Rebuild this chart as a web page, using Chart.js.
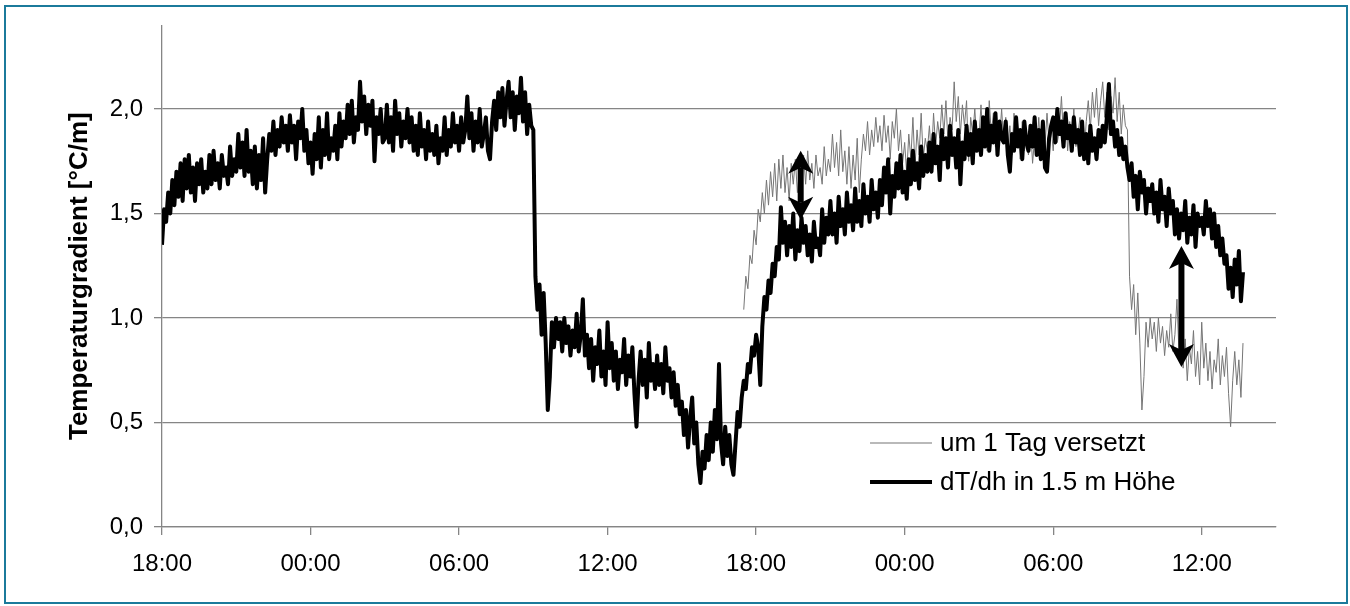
<!DOCTYPE html>
<html>
<head>
<meta charset="utf-8">
<script src="https://cdn.jsdelivr.net/npm/chart.js@4.4.1/dist/chart.umd.min.js"></script>
<style>
  html, body { margin: 0; padding: 0; background: #ffffff; }
  #wrap { position: relative; width: 1350px; height: 606px; overflow: hidden; background: #fff; }
  #c { position: absolute; left: 0; top: 0; }
  #frame { position: absolute; left: 4px; top: 5px; width: 1340px; height: 595px; border: 2px solid #1b7a9b; pointer-events: none; }
</style>
</head>
<body>
<div id="wrap">
  <canvas id="c" width="1350" height="606"></canvas>
  <div id="frame"></div>
</div>
<script>
// ---- data ----
// time axis: hours after 18:00 of day 1, 5-minute samples
const sampleStepHours = 1 / 12;
const mainStartHour = 0;
const shiftedStartHour = 23.5;

const xTickLabels = ["18:00", "00:00", "06:00", "12:00", "18:00", "00:00", "06:00", "12:00"];
const yTickValues = [0, 0.5, 1.0, 1.5, 2.0];

const seriesNames = ["um 1 Tag versetzt", "dT/dh in 1.5 m Höhe"];

// dT/dh in 1.5 m height [°C/m], one row per hour
const dTdh = [
  1.35,1.52,1.46,1.60,1.50,1.66,1.54,1.70,1.58,1.74,1.56,1.76,
  1.62,1.78,1.60,1.72,1.56,1.74,1.64,1.76,1.60,1.70,1.62,1.78,
  1.64,1.80,1.66,1.74,1.62,1.78,1.68,1.72,1.64,1.82,1.68,1.76,
  1.70,1.88,1.72,1.84,1.68,1.90,1.70,1.80,1.64,1.82,1.62,1.78,
  1.66,1.86,1.60,1.76,1.88,1.80,1.94,1.78,1.90,1.82,1.96,1.84,
  1.92,1.80,1.97,1.84,1.92,1.76,1.94,1.86,2.00,1.80,1.90,1.74,
  1.84,1.69,1.88,1.76,1.96,1.72,1.90,1.78,1.98,1.76,1.86,1.80,
  1.92,1.76,1.98,1.82,1.94,1.86,2.02,1.88,2.04,1.84,1.96,1.90,
  2.13,1.94,2.06,1.88,2.02,1.92,2.04,1.75,1.96,1.88,2.00,1.84,
  1.86,2.02,1.84,1.96,1.80,2.04,1.88,1.98,1.82,1.94,1.86,2.00,
  1.84,1.96,1.80,1.92,1.78,1.98,1.82,1.90,1.76,1.94,1.80,1.88,
  1.78,1.92,1.74,1.86,1.80,1.96,1.78,1.90,1.82,1.98,1.84,1.92,
  1.80,1.96,1.84,1.90,2.06,1.86,1.98,1.80,1.94,1.84,2.00,1.82,
  1.88,1.96,1.80,1.76,1.94,2.04,1.90,2.08,1.96,2.10,1.92,2.04,
  2.13,1.96,2.08,1.90,2.06,1.98,2.15,1.94,2.08,1.88,2.02,1.92,
  1.90,1.20,1.04,1.16,0.92,1.12,0.88,0.56,0.72,0.98,0.86,1.00,
  0.90,0.98,0.84,1.00,0.88,0.96,0.82,0.94,0.86,1.02,0.84,0.92,
  1.09,0.82,0.92,0.76,0.90,0.70,0.86,0.78,0.94,0.72,0.84,0.68,
  0.98,0.76,0.88,0.70,0.84,0.66,0.80,0.74,0.90,0.68,0.82,0.72,
  0.86,0.64,0.48,0.70,0.84,0.68,0.80,0.62,0.88,0.70,0.78,0.66,
  0.82,0.68,0.78,0.64,0.86,0.70,0.76,0.62,0.74,0.58,0.68,0.54,
  0.60,0.44,0.56,0.38,0.52,0.62,0.40,0.50,0.30,0.21,0.36,0.28,
  0.44,0.32,0.50,0.36,0.56,0.42,0.78,0.40,0.30,0.48,0.34,0.44,
  0.30,0.25,0.40,0.55,0.48,0.62,0.70,0.66,0.78,0.74,0.86,0.82,
  0.92,0.86,0.68,0.96,1.10,1.04,1.18,1.12,1.26,1.20,1.34,1.28,
  1.53,1.36,1.46,1.30,1.44,1.34,1.50,1.28,1.42,1.32,1.48,1.36,
  1.44,1.30,1.40,1.27,1.46,1.34,1.38,1.30,1.52,1.36,1.48,1.40,
  1.56,1.40,1.50,1.36,1.58,1.44,1.52,1.40,1.60,1.46,1.54,1.42,
  1.62,1.46,1.56,1.44,1.64,1.50,1.58,1.46,1.66,1.52,1.60,1.48,
  1.66,1.54,1.72,1.60,1.76,1.50,1.68,1.58,1.74,1.62,1.78,1.60,
  1.70,1.57,1.76,1.64,1.80,1.66,1.74,1.62,1.82,1.68,1.78,1.70,
  1.84,1.70,1.88,1.74,1.82,1.66,1.90,1.76,1.86,1.72,1.92,1.78,
  1.86,1.72,1.90,1.64,1.84,1.76,1.92,1.78,1.88,1.74,1.94,1.80,
  1.90,1.78,1.96,1.82,2.00,1.80,1.92,1.84,1.98,1.78,1.94,1.86,
  1.84,1.94,1.78,1.70,1.88,1.80,1.96,1.82,1.90,1.76,1.94,1.84,
  1.80,1.92,1.82,1.96,1.78,1.90,1.76,1.94,1.72,1.70,1.86,1.92,
  1.96,1.84,2.00,1.88,1.94,1.82,1.98,1.86,1.92,1.80,1.96,1.84,
  1.90,1.78,1.94,1.76,1.88,1.74,1.92,1.80,1.86,1.76,1.90,1.82,
  1.92,1.84,1.96,2.12,1.88,1.94,1.82,1.90,1.78,1.86,1.76,1.82,
  1.72,1.66,1.74,1.58,1.68,1.52,1.70,1.60,1.66,1.50,1.62,1.56,
  1.64,1.50,1.60,1.46,1.66,1.52,1.58,1.44,1.62,1.50,1.56,1.40,
  1.52,1.38,1.50,1.42,1.56,1.36,1.48,1.40,1.54,1.34,1.50,1.44,
  1.48,1.40,1.56,1.44,1.52,1.38,1.50,1.34,1.44,1.30,1.38,1.26,
  1.30,1.14,1.24,1.10,1.28,1.16,1.32,1.08,1.22
];

// same measurement shifted by one day (starts at 23.5 h)
const dTdhShifted = [
  1.04,1.20,1.14,1.30,1.26,1.42,
  1.35,1.52,1.46,1.60,1.50,1.66,1.54,1.70,1.58,1.74,1.56,1.76,
  1.62,1.78,1.60,1.72,1.56,1.74,1.64,1.76,1.60,1.70,1.62,1.78,
  1.64,1.80,1.66,1.74,1.62,1.78,1.68,1.72,1.64,1.82,1.68,1.76,
  1.70,1.88,1.72,1.84,1.68,1.90,1.70,1.80,1.64,1.82,1.62,1.78,
  1.66,1.86,1.60,1.76,1.88,1.80,1.94,1.78,1.90,1.82,1.96,1.84,
  1.92,1.80,1.97,1.84,1.92,1.76,1.94,1.86,2.00,1.80,1.90,1.74,
  1.84,1.69,1.88,1.76,1.96,1.72,1.90,1.78,1.98,1.76,1.86,1.80,
  1.92,1.76,1.98,1.82,1.94,1.86,2.02,1.88,2.04,1.84,1.96,1.90,
  2.13,1.94,2.06,1.88,2.02,1.92,2.04,1.75,1.96,1.88,2.00,1.84,
  1.86,2.02,1.84,1.96,1.80,2.04,1.88,1.98,1.82,1.94,1.86,2.00,
  1.84,1.96,1.80,1.92,1.78,1.98,1.82,1.90,1.76,1.94,1.80,1.88,
  1.78,1.92,1.74,1.86,1.80,1.96,1.78,1.90,1.82,1.98,1.84,1.92,
  1.80,1.96,1.84,1.90,2.06,1.86,1.98,1.80,1.94,1.84,2.00,1.82,
  1.88,1.96,1.80,1.76,1.94,2.04,1.90,2.08,1.96,2.10,1.92,2.04,
  2.13,1.96,2.08,1.90,2.06,1.98,2.15,1.94,2.08,1.88,2.02,1.92,
  1.90,1.20,1.04,1.16,0.92,1.12,0.88,0.56,0.72,0.98,0.86,1.00,
  0.90,0.98,0.84,1.00,0.88,0.96,0.82,0.94,0.86,1.02,0.84,0.92,
  1.09,0.82,0.92,0.76,0.90,0.70,0.86,0.78,0.94,0.72,0.84,0.68,
  0.98,0.76,0.88,0.70,0.84,0.66,0.80,0.74,0.90,0.68,0.82,0.72,
  0.86,0.64,0.48,0.70,0.84,0.68,0.80,0.62,0.88
];

// double arrows marking the difference (hour, low value, high value)
const arrowHours = [25.8, 41.18];
const arrowLow = [1.47, 0.765];
const arrowHigh = [1.80, 1.345];

// ---- build ----
const toPoints = (arr, start) => arr.map((v, i) => ({ x: start + i * sampleStepHours, y: v }));

const FONT = "'Liberation Sans', Arial, sans-serif";
const GRID = '#858585';

const arrowPlugin = {
  id: 'arrows',
  afterDatasetsDraw(chart) {
    const { ctx, scales: { x, y } } = chart;
    ctx.save();
    ctx.fillStyle = '#000';
    ctx.strokeStyle = '#000';
    for (let i = 0; i < arrowHours.length; i++) {
      const px = x.getPixelForValue(arrowHours[i]);
      const yTop = y.getPixelForValue(arrowHigh[i]);
      const yBot = y.getPixelForValue(arrowLow[i]);
      const headL = 23, headW = 12.5, notch = 6;
      ctx.lineWidth = 6;
      ctx.beginPath();
      ctx.moveTo(px, yTop + headL - notch);
      ctx.lineTo(px, yBot - headL + notch);
      ctx.stroke();
      ctx.beginPath();
      ctx.moveTo(px, yTop);
      ctx.lineTo(px + headW, yTop + headL);
      ctx.lineTo(px, yTop + headL - notch);
      ctx.lineTo(px - headW, yTop + headL);
      ctx.closePath();
      ctx.fill();
      ctx.beginPath();
      ctx.moveTo(px, yBot);
      ctx.lineTo(px + headW, yBot - headL);
      ctx.lineTo(px, yBot - headL + notch);
      ctx.lineTo(px - headW, yBot - headL);
      ctx.closePath();
      ctx.fill();
    }
    ctx.restore();
  }
};

const legendPlugin = {
  id: 'innerLegend',
  afterDraw(chart) {
    const { ctx } = chart;
    const items = [chart.data.datasets[1], chart.data.datasets[0]];
    const x0 = chart.scales.x.getPixelForValue(28.6);
    const lineLen = 62;
    ctx.save();
    ctx.font = '26px ' + FONT;
    ctx.textBaseline = 'middle';
    ctx.textAlign = 'left';
    items.forEach((ds, k) => {
      const yy = 443 + k * 39;
      ctx.strokeStyle = ds.borderColor;
      ctx.lineWidth = k === 0 ? 1.2 : 4;
      ctx.beginPath();
      ctx.moveTo(x0, yy);
      ctx.lineTo(x0 + lineLen, yy);
      ctx.stroke();
      ctx.fillStyle = '#000';
      ctx.fillText(ds.label, x0 + lineLen + 8, yy + 1);
    });
    ctx.restore();
  }
};

new Chart(document.getElementById('c'), {
  type: 'line',
  data: {
    datasets: [
      {
        label: seriesNames[1],
        data: toPoints(dTdh, mainStartHour),
        borderColor: '#000000',
        borderWidth: 4,
        borderJoinStyle: 'round',
        pointRadius: 0,
        tension: 0,
        fill: false
      },
      {
        label: seriesNames[0],
        data: toPoints(dTdhShifted, shiftedStartHour),
        borderColor: '#757575',
        borderWidth: 1,
        pointRadius: 0,
        tension: 0,
        fill: false
      }
    ]
  },
  options: {
    responsive: false,
    animation: false,
    events: [],
    layout: { padding: { left: 60, right: 74, top: 18, bottom: 0 } },
    plugins: { legend: { display: false }, tooltip: { enabled: false } },
    scales: {
      x: {
        type: 'linear',
        min: 0,
        max: 45,
        afterFit(scale) { scale.height = 79; },
        border: { display: true, color: GRID, width: 1.3 },
        grid: { display: true, drawOnChartArea: false, drawTicks: true, tickLength: 8, color: GRID, lineWidth: 1.3 },
        ticks: {
          stepSize: 6,
          includeBounds: false,
          autoSkip: false,
          maxRotation: 0,
          padding: 15,
          color: '#000',
          font: { family: FONT, size: 24 },
          callback: (v) => {
            const idx = Math.round(v / 6);
            return (Math.abs(v - idx * 6) < 1e-6 && xTickLabels[idx] !== undefined) ? xTickLabels[idx] : '';
          }
        }
      },
      y: {
        min: 0,
        max: 2.4,
        afterFit(scale) { scale.width = 102; },
        afterBuildTicks(scale) { scale.ticks = yTickValues.map(v => ({ value: v })); },
        border: { display: true, color: GRID, width: 1.3 },
        grid: { display: true, drawTicks: true, tickLength: 8, color: GRID, lineWidth: 1.3 },
        ticks: {
          padding: 11,
          color: '#000',
          font: { family: FONT, size: 24 },
          callback: (v) => Number(v).toFixed(1).replace('.', ',')
        },
        title: {
          display: true,
          text: 'Temperaturgradient [°C/m]',
          color: '#000',
          font: { family: FONT, size: 26, weight: 'bold' },
          padding: { top: 4, bottom: 0 }
        }
      }
    }
  },
  plugins: [arrowPlugin, legendPlugin]
});
</script>
</body>
</html>
